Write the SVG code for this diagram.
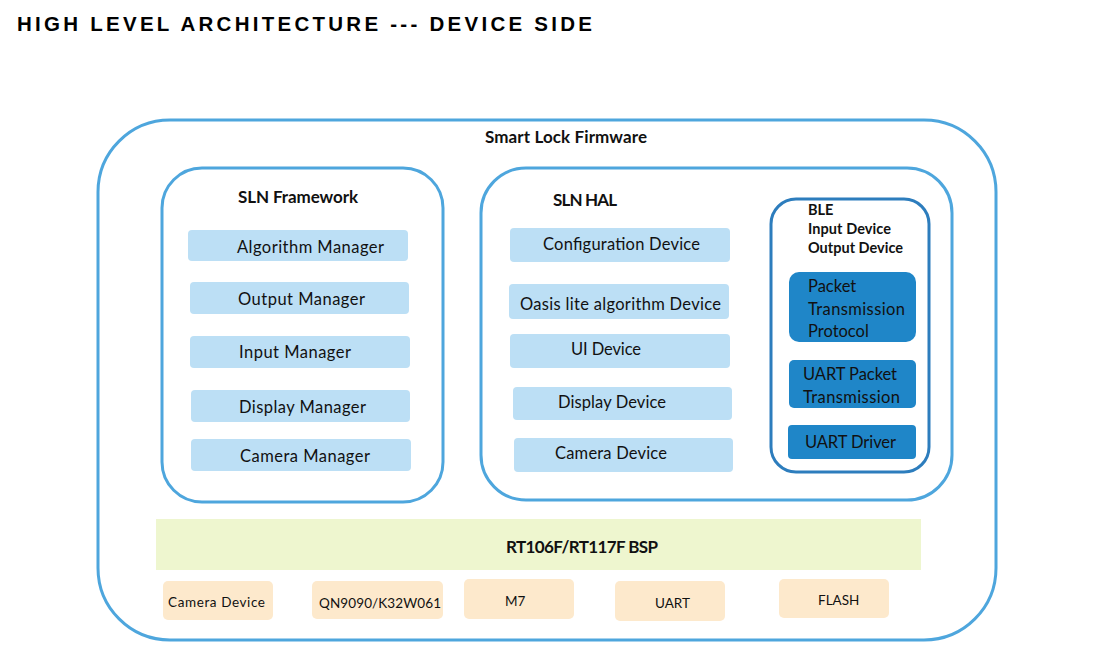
<svg xmlns="http://www.w3.org/2000/svg" width="1097" height="662" viewBox="0 0 1097 662">
<style>
.cont{fill:#fff;stroke:#4ea6dd;stroke-width:3}
.ble{fill:#fff;stroke:#2d7dbd;stroke-width:3}
.lb{fill:#bcdff5}
.db{fill:#1f86c8}
.bsp{fill:#eef6cf}
.hw{fill:#fde9cc}
text{font-family:Lato,"Open Sans",sans-serif;fill:#111}
.t{font-size:16.5px}
.h{font-size:17px;font-weight:bold}
.s{font-size:14.5px;font-weight:bold}
.hwt{font-size:13.5px}
.title{font-family:"Liberation Sans",Arial,sans-serif;font-size:20.5px;font-weight:bold;fill:#000}
</style>
<rect width="1097" height="662" fill="#fff"/>
<text class="title" x="17" y="31" textLength="575" lengthAdjust="spacing">HIGH LEVEL ARCHITECTURE --- DEVICE SIDE</text>
<g id="firmware">
<rect class="cont" x="98" y="120" width="898" height="520" rx="72"/>
<text class="h" x="566" y="143" text-anchor="middle" textLength="162">Smart Lock Firmware</text>
</g>
<g id="framework">
<rect class="cont" x="162" y="168" width="281" height="334" rx="40"/>
<text class="h" x="298" y="203" text-anchor="middle" textLength="120">SLN Framework</text>
</g>
<g id="algorithm-manager"><rect class="lb" x="188" y="230" width="220" height="31" rx="4"/><text class="t" x="237" y="253" textLength="147">Algorithm Manager</text></g>
<g id="output-manager"><rect class="lb" x="190" y="282" width="219" height="32" rx="4"/><text class="t" x="238" y="305" textLength="127">Output Manager</text></g>
<g id="input-manager"><rect class="lb" x="190" y="336" width="220" height="32" rx="4"/><text class="t" x="239" y="358" textLength="112">Input Manager</text></g>
<g id="display-manager"><rect class="lb" x="191" y="390" width="219" height="32" rx="4"/><text class="t" x="239" y="413" textLength="127">Display Manager</text></g>
<g id="camera-manager"><rect class="lb" x="191" y="439" width="220" height="32" rx="4"/><text class="t" x="240" y="462" textLength="130">Camera Manager</text></g>
<g id="hal">
<rect class="cont" x="481" y="168" width="471" height="332" rx="45"/>
<text class="h" x="553" y="206" textLength="64">SLN HAL</text>
</g>
<g id="configuration-device"><rect class="lb" x="510" y="228" width="220" height="34" rx="4"/><text class="t" x="543" y="250" textLength="157">Configuration Device</text></g>
<g id="oasis-device"><rect class="lb" x="509" y="284" width="220" height="35" rx="4"/><text class="t" x="520" y="310" textLength="201">Oasis lite algorithm Device</text></g>
<g id="ui-device"><rect class="lb" x="510" y="334" width="220" height="34" rx="4"/><text class="t" x="571" y="355" textLength="70">UI Device</text></g>
<g id="display-device"><rect class="lb" x="513" y="387" width="219" height="33" rx="4"/><text class="t" x="558" y="408" textLength="108">Display Device</text></g>
<g id="camera-device-hal"><rect class="lb" x="514" y="438" width="219" height="34" rx="4"/><text class="t" x="555" y="459" textLength="112">Camera Device</text></g>
<g id="ble">
<rect class="ble" x="771" y="199" width="158" height="273" rx="25"/>
<text class="s" x="808" y="215">BLE</text>
<text class="s" x="808" y="234" textLength="83">Input Device</text>
<text class="s" x="808" y="253" textLength="95">Output Device</text>
</g>
<g id="packet-protocol"><rect class="db" x="789" y="272" width="127" height="70" rx="10"/>
<text class="t" x="808" y="292">Packet</text><text class="t" x="808" y="315" textLength="97">Transmission</text><text class="t" x="808" y="337">Protocol</text></g>
<g id="uart-packet"><rect class="db" x="789" y="360" width="127" height="48" rx="5"/>
<text class="t" x="803" y="380" textLength="94">UART Packet</text><text class="t" x="803" y="403" textLength="97">Transmission</text></g>
<g id="uart-driver"><rect class="db" x="788" y="425" width="128" height="34" rx="4"/><text class="t" x="805" y="448" textLength="91">UART Driver</text></g>
<g id="bsp"><rect class="bsp" x="156" y="519" width="765" height="51"/><text class="h" x="582" y="553" text-anchor="middle" textLength="152">RT106F/RT117F BSP</text></g>
<g id="hw-camera"><rect class="hw" x="163" y="581" width="110" height="39" rx="5"/><text class="hwt" x="168" y="607" textLength="97">Camera Device</text></g>
<g id="hw-qn"><rect class="hw" x="312" y="581" width="131" height="38" rx="5"/><text class="hwt" x="319" y="608" textLength="122">QN9090/K32W061</text></g>
<g id="hw-m7"><rect class="hw" x="464" y="579" width="110" height="40" rx="5"/><text class="hwt" x="505" y="606">M7</text></g>
<g id="hw-uart"><rect class="hw" x="615" y="581" width="110" height="40" rx="5"/><text class="hwt" x="655" y="608">UART</text></g>
<g id="hw-flash"><rect class="hw" x="779" y="579" width="110" height="39" rx="5"/><text class="hwt" x="818" y="605">FLASH</text></g>
<g id="connectors"></g>
</svg>
